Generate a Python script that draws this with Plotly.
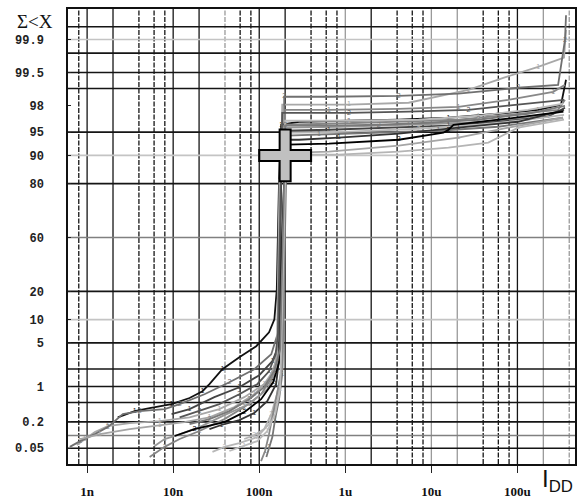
import math
from statistics import NormalDist
import plotly.graph_objects as go

ND = NormalDist()

def zq(p):
    return ND.inv_cdf(p / 100.0)

# ---------------- axis labels / grid ----------------
x_tick_vals = [1, 10, 100, 1000, 10000, 100000]          # nA
x_tick_text = ["1n", "10n", "100n", "1u", "10u", "100u"]
y_tick_pct = [99.9, 99.5, 98, 95, 90, 80, 50, 20, 10, 5, 1, 0.2, 0.05]
y_tick_text = ["99.9", "99.5", "98", "95", "90", "80", "60", "20", "10", "5", "1", "0.2", "0.05"]

x_grid = [0.8] + [m * 10 ** e for e in range(0, 6) for m in (1, 2, 4, 6, 8)][:-1]
y_grid_pct = [0.05, 0.1, 0.2, 0.5, 1, 2, 5, 10, 20, 50, 80, 90, 95, 99, 99.5, 99.8, 99.9, 99.95]

# ---------------- measured curves (I in nA, cumulative %) ----------------
c01_x = [2.27, 3.57, 5.33, 9.58, 15.5, 21.9, 26.4, 37.3, 58.7, 92.3, 130, 150, 160, 165, 170, 180, 290, 1100, 4170, 15800, 60000, 174000, 321000, 367000]
c01_p = [0.25, 0.336, 0.386, 0.465, 0.61, 0.82, 1.10, 1.99, 3.08, 4.48, 6.95, 10.1, 20.9, 48.8, 81.7, 96.08, 96.46, 96.58, 96.70, 96.92, 97.33, 97.69, 98.09, 99.31]
c02_x = [0.76, 0.94, 1.23, 1.74, 3.13, 6.96, 15.5, 34.4, 67.0, 114, 150, 165, 170, 178, 185, 1100, 5440, 27000, 68500, 174000, 348000, 367000]
c02_p = [0.060, 0.0827, 0.12, 0.162, 0.188, 0.208, 0.25, 0.369, 0.635, 1.10, 1.99, 5.6, 48.8, 81.7, 98.09, 98.09, 98.23, 98.94, 99.365, 99.614, 99.75, 99.94]
c03_x = [0.63, 0.83, 1.23, 1.74, 2.60, 4.08, 7.95, 11.9, 23.1, 45.0, 87.5, 138, 170, 185, 195, 195, 646, 4170, 20600, 102000, 297000, 357000, 367000]
c03_p = [0.054, 0.074, 0.107, 0.154, 0.292, 0.336, 0.369, 0.465, 0.72, 1.19, 1.99, 3.42, 7.6, 48.8, 81.7, 98.60, 98.60, 98.65, 98.76, 99.03, 99.14, 99.898, 99.974]
c04_x = [5.33, 7.95, 11.9, 20.2, 39.4, 67.0, 105, 149, 175, 190, 195, 200, 646, 4170, 20600, 78300, 297000, 357000]
c04_p = [0.0305, 0.054, 0.0827, 0.126, 0.229, 0.405, 0.72, 1.64, 4.78, 48.8, 81.7, 96.08, 96.21, 96.46, 96.70, 97.23, 97.69, 98.42]
c05_x = [6.09, 7.95, 11.2, 20.2, 39.4, 76.6, 124, 161, 180, 190, 200, 200, 843, 5440, 27000, 102000, 348000]
c05_p = [0.057, 0.0827, 0.102, 0.154, 0.278, 0.465, 0.894, 1.99, 4.78, 48.8, 81.7, 95.67, 95.81, 96.08, 96.34, 96.81, 97.52]
c06_x = [9.58, 15.5, 30.1, 58.7, 100, 142, 170, 185, 190, 195, 200, 646, 4170, 15800, 60000, 227000, 357000]
c06_p = [0.292, 0.369, 0.635, 0.97, 1.58, 2.67, 4.78, 10.1, 48.8, 81.7, 95.22, 95.37, 95.67, 95.95, 96.46, 97.03, 97.86]
c07_x = [28.6, 39.4, 58.7, 94.8, 130, 161, 185, 195, 200, 205, 1100, 7110, 35200, 133000, 348000]
c07_p = [0.041, 0.054, 0.0666, 0.092, 0.179, 0.465, 1.99, 48.8, 81.7, 94.9, 95.06, 95.52, 96.08, 96.70, 97.23]
c08_x = [121, 130, 142, 153, 170, 185, 200, 205, 205, 495, 2450, 12100, 60000, 339000]
c08_p = [0.0305, 0.054, 0.092, 0.229, 0.58, 1.64, 48.8, 81.7, 94.40, 94.57, 94.9, 95.22, 95.81, 96.92]
c09_x = [26.4, 36.3, 58.7, 87.5, 124, 157, 170, 175, 180, 211, 290, 843, 4170, 20600, 102000, 348000]
c09_p = [0.139, 0.171, 0.218, 0.306, 0.53, 1.10, 2.87, 48.8, 81.7, 93.65, 93.65, 94.04, 94.74, 95.67, 96.46, 97.69]
c10_x = [10.4, 17.7, 39.4, 67.0, 105, 145, 175, 185, 195, 211, 646, 4170, 13800, 15800, 18100, 60000, 339000]
c10_p = [0.097, 0.139, 0.198, 0.32, 0.58, 1.19, 2.87, 48.8, 81.7, 92.63, 92.84, 93.65, 94.9, 95.37, 96.08, 96.70, 97.52]
c11_x = [0.83, 1.41, 3.13, 6.96, 13.5, 26.4, 51.4, 87.5, 130, 160, 168, 172, 217, 646, 4170, 20600, 78300, 339000]
c11_p = [0.0827, 0.107, 0.139, 0.171, 0.198, 0.25, 0.405, 0.72, 1.35, 2.87, 48.8, 81.7, 90.7, 90.98, 92.41, 94.04, 95.67, 96.92]
c12_x = [67.0, 87.5, 114, 138, 161, 180, 190, 200, 222, 843, 4170, 15800, 45900, 102000, 348000]
c12_p = [0.0827, 0.102, 0.139, 0.292, 0.72, 1.84, 48.8, 81.7, 90.2, 90.2, 90.98, 91.95, 93.06, 95.67, 96.70]
c13_x = [105, 117, 130, 145, 166, 185, 195, 200, 200, 646, 4170, 20600, 78300, 260000, 357000]
c13_p = [0.024, 0.043, 0.107, 0.292, 0.894, 2.14, 48.8, 81.7, 97.69, 97.69, 97.77, 97.93, 98.42, 98.85, 99.14]
c14_x = [11.9, 20.2, 34.4, 58.7, 94.8, 130, 155, 165, 172, 178, 185, 1100, 5440, 27000, 102000, 348000]
c14_p = [0.25, 0.336, 0.465, 0.72, 1.10, 1.84, 3.42, 6.54, 48.8, 81.7, 97.42, 97.42, 97.52, 97.69, 98.09, 98.42]
c15_x = [45.0, 67.0, 94.8, 124, 153, 175, 190, 200, 200, 1100, 7110, 35200, 133000, 339000]
c15_p = [0.043, 0.057, 0.074, 0.126, 0.292, 0.894, 48.8, 81.7, 96.58, 96.58, 96.70, 97.13, 97.69, 98.16]
c16_x = [15.5, 26.4, 45.0, 76.6, 114, 149, 175, 190, 195, 200, 646, 2450, 9290, 35200, 133000, 357000]
c16_p = [0.179, 0.229, 0.336, 0.58, 0.97, 1.84, 4.05, 48.8, 81.7, 95.95, 95.95, 96.08, 96.34, 96.70, 97.33, 98.01]

# target marker (I, %)
plus_x = [200]
plus_p = [90]

curves = [
    (c01_x, c01_p), (c02_x, c02_p), (c03_x, c03_p), (c04_x, c04_p),
    (c05_x, c05_p), (c06_x, c06_p), (c07_x, c07_p), (c08_x, c08_p),
    (c09_x, c09_p), (c10_x, c10_p), (c11_x, c11_p), (c12_x, c12_p),
    (c13_x, c13_p), (c14_x, c14_p), (c15_x, c15_p), (c16_x, c16_p),
]
curve_colors = ["#111111", "#a8a8a8", "#707070", "#858585", "#969696", "#444444",
                "#b8b8b8", "#777777", "#333333", "#000000", "#a5a5a5", "#b5b5b5",
                "#888888", "#555555", "#bbbbbb", "#7a7a7a"]
curve_marks = ["1", "1", "2", "2", "1", "1", "2", "1", "1", "2", "1", "2", "1", "2", "1", "2"]

# ---------------- layout geometry ----------------
W, H = 578, 500
ML, MR, MT, MB = 68, 1, 9, 35
x_range = [-0.222, 5.669]
y_range = [-3.536, 3.567]

fig = go.Figure()

# grid lines (vertical)
gray_x = {40, 1000, 10000, 20000, 200000, 400000}
for v in x_grid:
    m = round(v / 10 ** math.floor(math.log10(v) + 1e-9))
    dash = "solid" if m in (1, 2) else "5px,1.5px"
    col = "#9a9a9a" if v in gray_x else "#151515"
    fig.add_trace(go.Scatter(x=[v, v], y=y_range, mode="lines",
                             line=dict(color=col, width=1.3, dash=dash),
                             hoverinfo="skip", showlegend=False))

# grid lines (horizontal)
light_y = {10, 90, 99.9}
mid_y = {0.1, 50}
for p in y_grid_pct:
    if p in light_y:
        col = "#c4c4c4"
    elif p in mid_y:
        col = "#808080"
    else:
        col = "#151515"
    fig.add_trace(go.Scatter(x=[10 ** x_range[0], 10 ** x_range[1]], y=[zq(p), zq(p)],
                             mode="lines", line=dict(color=col, width=1.6),
                             hoverinfo="skip", showlegend=False))

# data curves: lines, plus small digit marks on tail points
for (cx, cp), col, mk in zip(curves, curve_colors, curve_marks):
    zy = [zq(p) for p in cp]
    fig.add_trace(go.Scatter(
        x=cx, y=zy, mode="lines",
        line=dict(color=col, width=1.8),
        hoverinfo="skip", showlegend=False))
    tx, ty = [], []
    for i, (a, b) in enumerate(zip(cx, cp)):
        if (b < 3 or b > 92) and i % 2 == 1 and i < len(cx) - 1:
            tx.append(a)
            ty.append(zq(b))
    fig.add_trace(go.Scatter(
        x=tx, y=ty, mode="text", text=[mk] * len(tx),
        textposition="middle center",
        textfont=dict(size=7, color=col, family="Liberation Sans"),
        hoverinfo="skip", showlegend=False))

# plus marker (black outline + gray fill)
fig.add_trace(go.Scatter(x=plus_x, y=[zq(p) for p in plus_p], mode="markers",
                         marker=dict(symbol="cross-thin", size=38.5, color="#000000",
                                     line=dict(color="#000000", width=13)),
                         hoverinfo="skip", showlegend=False))
fig.add_trace(go.Scatter(x=plus_x, y=[zq(p) for p in plus_p], mode="markers",
                         marker=dict(symbol="cross-thin", size=35.5, color="#c0c0c0",
                                     line=dict(color="#c0c0c0", width=9)),
                         hoverinfo="skip", showlegend=False))

fig.update_layout(
    width=W, height=H,
    margin=dict(l=ML, r=MR, t=MT, b=MB),
    paper_bgcolor="white", plot_bgcolor="white",
    showlegend=False,
    xaxis=dict(type="log", range=x_range, showgrid=False, zeroline=False,
               tickmode="array", tickvals=x_tick_vals, ticktext=x_tick_text,
               ticks="outside", ticklen=7, tickwidth=1.4, tickcolor="#222",
               ticklabelstandoff=8,
               tickfont=dict(family="Liberation Serif", size=13, color="#111", weight="bold"),
               showline=True, mirror=True, linecolor="#111", linewidth=1.5),
    yaxis=dict(range=y_range, showgrid=False, zeroline=False,
               tickmode="array", tickvals=[zq(p) for p in y_tick_pct], ticktext=y_tick_text,
               ticks="inside", ticklen=3, tickcolor="#222",
               ticklabelstandoff=20,
               tickfont=dict(family="Liberation Mono", size=12, color="#222", weight="bold"),
               showline=True, mirror=True, linecolor="#111", linewidth=1.5),
    annotations=[
        dict(text="Σ<X", xref="paper", yref="paper", x=(15 - ML) / (W - ML - MR),
             y=(H - MB - 22) / (H - MT - MB), xanchor="left", yanchor="middle",
             showarrow=False, font=dict(family="Liberation Serif", size=19, color="#111")),
        dict(text="I<sub>DD</sub>", xref="paper", yref="paper", x=1.0,
             y=-(482 - (H - MB)) / (H - MT - MB), xanchor="right", yanchor="middle",
             showarrow=False, font=dict(family="Liberation Sans", size=24, color="#111")),
    ],
)

fig.write_html("out.html")
